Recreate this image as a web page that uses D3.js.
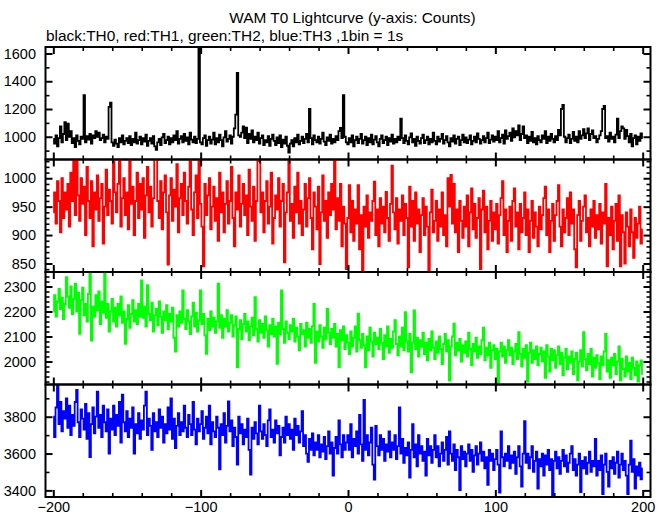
<!DOCTYPE html>
<html><head><meta charset="utf-8">
<script src="https://cdn.jsdelivr.net/npm/d3@7"></script>
<style>
body{margin:0;background:#fff}
text{font-family:"Liberation Sans",Arial,Helvetica,sans-serif}
</style>
</head><body>
<svg id="chart" width="669" height="515"></svg>
<script>
// ---- data (1 bin = 1 s, t = -200 .. 200) ----
const tStart = -200;
const th0 = [
985,950,1010,930,990,1075,960,1020,1105,975,
1095,1000,1040,955,990,925,1010,970,945,1000,
985,1300,960,1005,980,1020,950,1010,990,1040,
1000,1030,975,990,1015,960,1000,985,1215,1245,
960,935,980,950,925,990,960,1010,945,970,
990,955,1005,940,985,960,1030,950,975,1000,
945,990,965,1015,935,970,990,950,1005,930,
905,960,985,940,995,1020,955,975,1000,945,
990,960,1010,975,1040,950,985,1005,960,1020,
970,995,945,1030,980,960,1000,955,985,1650,
960,945,990,1010,935,975,1000,950,980,1030,
945,990,960,1015,975,930,995,1040,965,985,
1010,950,1000,1060,1160,1460,1010,1000,1030,1075,
990,1065,955,1020,985,1045,960,1000,975,1030,
950,990,1010,940,975,960,1005,935,985,1015,
970,940,995,955,1010,925,980,950,1000,935,
885,950,975,930,990,960,1015,945,970,1000,
955,985,1020,960,1200,990,945,1010,975,960,
1000,950,985,1030,965,940,995,970,1015,950,
985,960,1005,975,1040,1063,990,1300,1000,960,
945,990,960,1010,930,975,1000,955,985,1020,
950,975,1000,940,990,960,1015,945,980,1005,
960,930,985,1010,955,975,1000,940,990,965,
1015,950,985,960,1000,975,1130,990,955,1010,
970,945,995,1025,960,985,935,1000,970,950,
990,1015,955,975,1000,945,985,960,1030,970,
945,1000,965,985,1020,950,975,1005,960,930,
990,965,1010,950,985,1000,940,975,1015,960,
995,955,980,1010,945,970,1000,960,1025,985,
950,975,1005,960,990,1030,955,980,1010,965,
1000,975,1040,960,990,1015,950,1045,985,1005,
1030,970,1060,995,1040,1010,1082,975,1020,1075,
990,1010,955,1000,970,1035,960,990,945,1005,
975,960,1010,985,1040,955,1000,970,1020,985,
960,1005,975,1050,1010,1200,1230,1000,960,990,
1015,955,985,1035,970,1000,960,1040,985,1010,
1055,990,1025,1060,975,1020,1045,990,1005,960,
985,1010,1040,1200,1222,990,1005,965,1030,985,
1000,960,1015,1130,990,1040,1075,1060,985,1050,
1005,960,1020,930,990,1010,945,1000,970,1025,
990];
const th1 = [
940,975,920,995,960,905,1000,930,975,945,
990,915,1010,960,1045,935,1040,970,925,1000,
955,985,900,1020,960,930,995,880,975,945,
1005,925,965,990,885,950,1015,935,980,960,
920,1050,975,940,990,1045,915,965,1000,935,
975,910,1030,955,985,900,960,1010,930,990,
945,1000,895,970,1020,940,985,915,965,1040,
1045,960,930,995,910,975,1005,940,848,970,
1000,925,980,950,1025,905,965,990,935,1010,
960,920,985,1030,945,900,975,1005,930,1045,
955,915,845,990,935,970,1000,910,950,985,
925,965,890,1010,940,975,905,955,995,920,
960,1020,930,880,975,945,1005,915,955,990,
935,970,900,1015,950,925,985,890,960,1030,
1040,940,975,905,960,995,920,950,1010,885,
930,970,945,1000,915,960,990,852,940,975,
1040,925,955,895,985,940,1010,920,960,900,
945,990,915,965,1000,930,875,975,950,910,
985,849,940,1005,925,960,895,975,935,990,
945,1040,910,965,925,990,880,950,920,840,
930,988,905,960,890,945,920,988,875,935,
838,950,915,970,895,940,925,960,994,900,
945,880,965,920,950,905,976,930,890,955,
1022,940,910,965,885,945,925,970,900,955,
930,843,985,915,960,890,975,920,945,870,
935,965,900,950,915,835,940,980,905,925,
960,890,945,915,975,900,935,880,1000,950,
1006,920,990,905,945,870,960,925,895,950,
915,970,880,940,982,910,955,895,930,965,
840,945,978,905,950,875,925,960,890,940,
910,955,885,935,965,995,900,945,870,925,
950,890,960,982,915,940,875,955,905,930,
975,900,945,870,925,960,895,940,915,880,
950,910,935,965,985,900,945,870,925,955,
890,935,960,988,915,880,945,905,930,965,
900,975,920,945,875,843,935,960,890,925,
950,970,905,930,880,945,915,960,895,935,
910,955,885,940,920,990,845,930,900,950,
875,925,955,890,970,845,935,905,850,940,
915,880,945,905,860,930,895,920,950,885,
910];
const th2 = [
2200,2265,2180,2240,2290,2210,2255,2170,2230,2337,
2260,2215,2300,2190,2250,2311,2200,2275,2111,2245,
2295,2185,2230,2160,2270,2351,2084,2220,2180,2265,
2205,2280,2150,2240,2195,2351,2175,2230,2120,2200,
2250,2160,2215,2140,2230,2185,2260,2155,2200,2071,
2170,2225,2135,2190,2245,2160,2205,2150,2230,2180,
2324,2175,2220,2140,2305,2190,2165,2235,2120,2185,
2210,2145,2240,2180,2115,2200,2165,2225,2130,2190,
2160,2215,2095,2040,2185,2140,2200,2155,2284,2170,
2130,2205,2160,2110,2180,2235,2140,2195,2120,2165,
2284,2150,2190,2105,2031,2170,2125,2200,2140,2175,
2115,2160,2311,2135,2185,2095,2170,2140,2205,2120,
2155,2185,2100,2145,2180,1977,2130,2165,2090,2150,
2190,2120,2160,2085,2140,2175,2105,2257,2130,2080,
2165,2115,2150,2095,2180,2125,2060,2145,2110,2170,
2100,2140,1991,2155,2110,2284,2130,2075,2160,2115,
2090,2145,2120,2170,2080,2135,2100,2045,2150,2110,
2125,2060,2155,2095,2130,2075,2140,2230,1995,2120,
2080,2145,2100,2055,2135,2090,2210,2115,2070,2130,
2095,2150,2060,2110,1977,2125,2085,2140,2050,2105,
2075,2030,2120,2060,2095,2140,2040,2191,2085,2055,
2110,2065,1977,2100,2045,2135,2080,2020,2115,2070,
2095,2050,2130,2075,2010,2105,2060,2140,2035,2090,
2055,2120,2165,2070,2025,2100,2060,2135,2045,2197,
2080,2040,2110,1957,2075,2204,2050,2095,2020,2085,
2060,2115,2030,2075,2005,2090,2045,2120,2055,2010,
2080,2035,2100,2050,1990,2070,2110,2040,2085,1924,
2060,2100,2151,2025,2075,2045,2090,2000,2065,2035,
2080,2020,2115,2050,1985,2070,2040,2095,2015,2060,
2030,2085,2135,2005,2055,2025,2075,1975,2045,2065,
2010,2050,1911,2040,2075,2020,2060,1995,2045,2085,
2025,2055,1990,2040,2070,2010,2117,2030,1980,2050,
2015,2065,1920,2035,2075,1995,2045,2010,2060,1985,
2030,2055,2000,2040,1935,2065,2020,1960,2050,2005,
2045,1975,2025,2060,1990,2035,1945,2015,2050,1970,
2020,1995,2040,1950,2010,2035,1925,2000,2045,1980,
2117,2010,1965,2030,1990,2050,1940,2015,1975,2025,
1995,1930,2020,1985,2040,2110,1960,2005,1935,2015,
1985,2030,1950,2000,2060,1925,2010,1970,1940,2020,
1960,1995,1930,2015,1975,1945,2000,1920,1985,2004,
1950];
const th3 = [
3800,3690,3850,3975,3760,3880,3720,3830,3790,3900,
3740,3860,3700,3810,3750,3880,3945,3770,3690,3840,
3790,3730,3870,3680,3820,3581,3760,3850,3710,3800,
3936,3740,3810,3690,3860,3770,3720,3840,3600,3790,
3730,3860,3700,3810,3750,3880,3660,3920,3770,3720,
3830,3690,3790,3740,3850,3600,3760,3710,3820,3680,
3780,3730,3860,3936,3700,3790,3750,3620,3820,3720,
3770,3690,3840,3740,3800,3660,3760,3710,3850,3730,
3900,3680,3790,3630,3750,3820,3700,3770,3720,3860,
3740,3690,3810,3760,3700,3880,3730,3650,3790,3720,
3760,3830,3680,3740,3800,3710,3860,3650,3770,3720,
3690,3800,3740,3514,3760,3700,3820,3660,3750,3883,
3720,3780,3640,3740,3690,3540,3800,3710,3760,3650,
3730,3690,3790,3620,3485,3740,3680,3770,3710,3650,
3860,3720,3680,3760,3700,3640,3780,3840,3690,3730,
3660,3780,3710,3750,3590,3690,3740,3660,3800,3700,
3760,3680,3730,3620,3790,3700,3750,3660,3720,3830,
3640,3700,3600,3555,3680,3620,3710,3590,3660,3620,
3700,3580,3650,3610,3690,3570,3640,3720,3600,3660,
3480,3630,3690,3600,3780,3650,3580,3700,3620,3660,
3700,3620,3760,3580,3680,3640,3720,3600,3810,3650,
3560,3892,3620,3700,3590,3660,3740,3540,3458,3750,
3640,3590,3700,3620,3680,3560,3650,3610,3720,3580,
3660,3620,3700,3570,3640,3850,3600,3680,3550,3630,
3590,3660,3470,3620,3760,3580,3650,3530,3700,3600,
3640,3560,3610,3480,3680,3590,3640,3550,3620,3700,
3580,3640,3530,3600,3660,3560,3620,3690,3540,3720,
3600,3560,3650,3510,3620,3580,3401,3640,3570,3610,
3530,3600,3650,3560,3620,3500,3590,3640,3540,3600,
3660,3560,3610,3520,3580,3430,3620,3560,3600,3510,
3570,3620,3540,3388,3720,3580,3530,3600,3560,3640,
3520,3590,3550,3610,3490,3580,3640,3530,3420,3600,
3776,3550,3600,3520,3580,3640,3500,3560,3610,3410,
3570,3530,3600,3480,3590,3540,3620,3510,3570,3370,
3560,3610,3520,3580,3490,3560,3620,3530,3590,3500,
3550,3600,3640,3510,3570,3480,3540,3600,3390,3560,
3520,3580,3490,3550,3610,3500,3560,3530,3680,3480,
3560,3510,3590,3380,3540,3600,3500,3420,3560,3520,
3580,3490,3550,3610,3470,3540,3600,3510,3560,3480,
3380,3540,3670,3500,3570,3410,3530,3480,3550,3460,
3520];

const xTickLabels = [-200,-100,0,100,200];
const yTicks0 = [1000,1200,1400,1600];
const yTicks1 = [850,900,950,1000];
const yTicks2 = [2000,2100,2200,2300];
const yTicks3 = [3400,3600,3800];
const titleText = "WAM T0 Lightcurve (y-axis: Counts)";
const subtitleText = "black:TH0, red:TH1, green:TH2, blue:TH3 ,1bin = 1s";

// ---- layout ----
const svg = d3.select("#chart");
const L = 45.5, R = 650.5, T = 47, B = 497;
const nP = 4, ph = (B - T) / nP;
const x = d3.scaleLinear().domain([-205.3, 205.3]).range([L, R]);

const panels = [
  {data: th0, color: "#000000", domain: [836, 1647], major: yTicks0, minor: d3.range(900, 1700, 100)},
  {data: th1, color: "#ff0000", domain: [835, 1033], major: yTicks1, minor: d3.range(840, 1040, 10)},
  {data: th2, color: "#00ff00", domain: [1908, 2358], major: yTicks2, minor: d3.range(1920, 2360, 20)},
  {data: th3, color: "#0000ff", domain: [3364, 3975], major: yTicks3, minor: d3.range(3400, 3975, 100)}
];

const xMinor = d3.range(-200, 201, 20);
const fmt = d3.format("d");

svg.append("text").attr("x", 352.5).attr("y", 23).attr("text-anchor", "middle")
  .attr("font-size", 15.4).text(titleText);
svg.append("text").attr("x", 46).attr("y", 41).attr("font-size", 15.4).text(subtitleText);

panels.forEach((p, i) => {
  const top = T + i * ph, bot = top + ph;
  const y = d3.scaleLinear().domain(p.domain).range([bot, top]);
  const g = svg.append("g");
  const cid = "clip" + i;
  svg.append("clipPath").attr("id", cid).append("rect")
    .attr("x", L).attr("y", top).attr("width", R - L).attr("height", ph);

  const pts = p.data.map((v, k) => ({t: tStart + k, v}));
  const line = d3.line().x(d => x(d.t)).y(d => y(d.v)).curve(d3.curveStep);
  g.append("path").datum(pts).attr("clip-path", `url(#${cid})`)
    .attr("d", line).attr("fill", "none").attr("stroke", p.color)
    .attr("stroke-width", 1.8).attr("stroke-linejoin", "miter");

  const styleAxis = (sel, w) => {
    sel.select(".domain").remove();
    sel.selectAll(".tick line").attr("stroke", "#000").attr("stroke-width", w);
    sel.selectAll("text").attr("font-size", 14.5).attr("fill", "#000")
      .attr("font-family", '"Liberation Sans",Arial,Helvetica,sans-serif');
  };
  const minorY = p.minor.filter(v => !p.major.includes(v));
  g.append("g").attr("transform", `translate(${L},0)`)
    .call(d3.axisLeft(y).tickValues(minorY).tickSize(-4).tickFormat(""))
    .call(s => styleAxis(s, 1.6));
  g.append("g").attr("transform", `translate(${L},0)`)
    .call(d3.axisLeft(y).tickValues(p.major).tickSize(-7).tickPadding(9.5).tickFormat(fmt))
    .call(s => styleAxis(s, 2));
  g.append("g").attr("transform", `translate(${R},0)`)
    .call(d3.axisRight(y).tickValues(minorY).tickSize(-4).tickFormat(""))
    .call(s => styleAxis(s, 1.6));
  g.append("g").attr("transform", `translate(${R},0)`)
    .call(d3.axisRight(y).tickValues(p.major).tickSize(-7).tickFormat(""))
    .call(s => styleAxis(s, 2));
  const minorX = xMinor.filter(v => !xTickLabels.includes(v));
  g.append("g").attr("transform", `translate(0,${top})`)
    .call(d3.axisTop(x).tickValues(minorX).tickSize(-4).tickFormat(""))
    .call(s => styleAxis(s, 1.6));
  g.append("g").attr("transform", `translate(0,${top})`)
    .call(d3.axisTop(x).tickValues(xTickLabels).tickSize(-7).tickFormat(""))
    .call(s => styleAxis(s, 2));
  g.append("g").attr("transform", `translate(0,${bot})`)
    .call(d3.axisBottom(x).tickValues(minorX).tickSize(-4).tickFormat(""))
    .call(s => styleAxis(s, 1.6));
  g.append("g").attr("transform", `translate(0,${bot})`)
    .call(d3.axisBottom(x).tickValues(xTickLabels).tickSize(-7).tickPadding(4.4)
      .tickFormat(i === nP - 1 ? fmt : ""))
    .call(s => styleAxis(s, 2));

  g.append("rect").attr("x", L).attr("y", top).attr("width", R - L).attr("height", ph)
    .attr("fill", "none").attr("stroke", "#000").attr("stroke-width", 2);
});
</script>
</body></html>
